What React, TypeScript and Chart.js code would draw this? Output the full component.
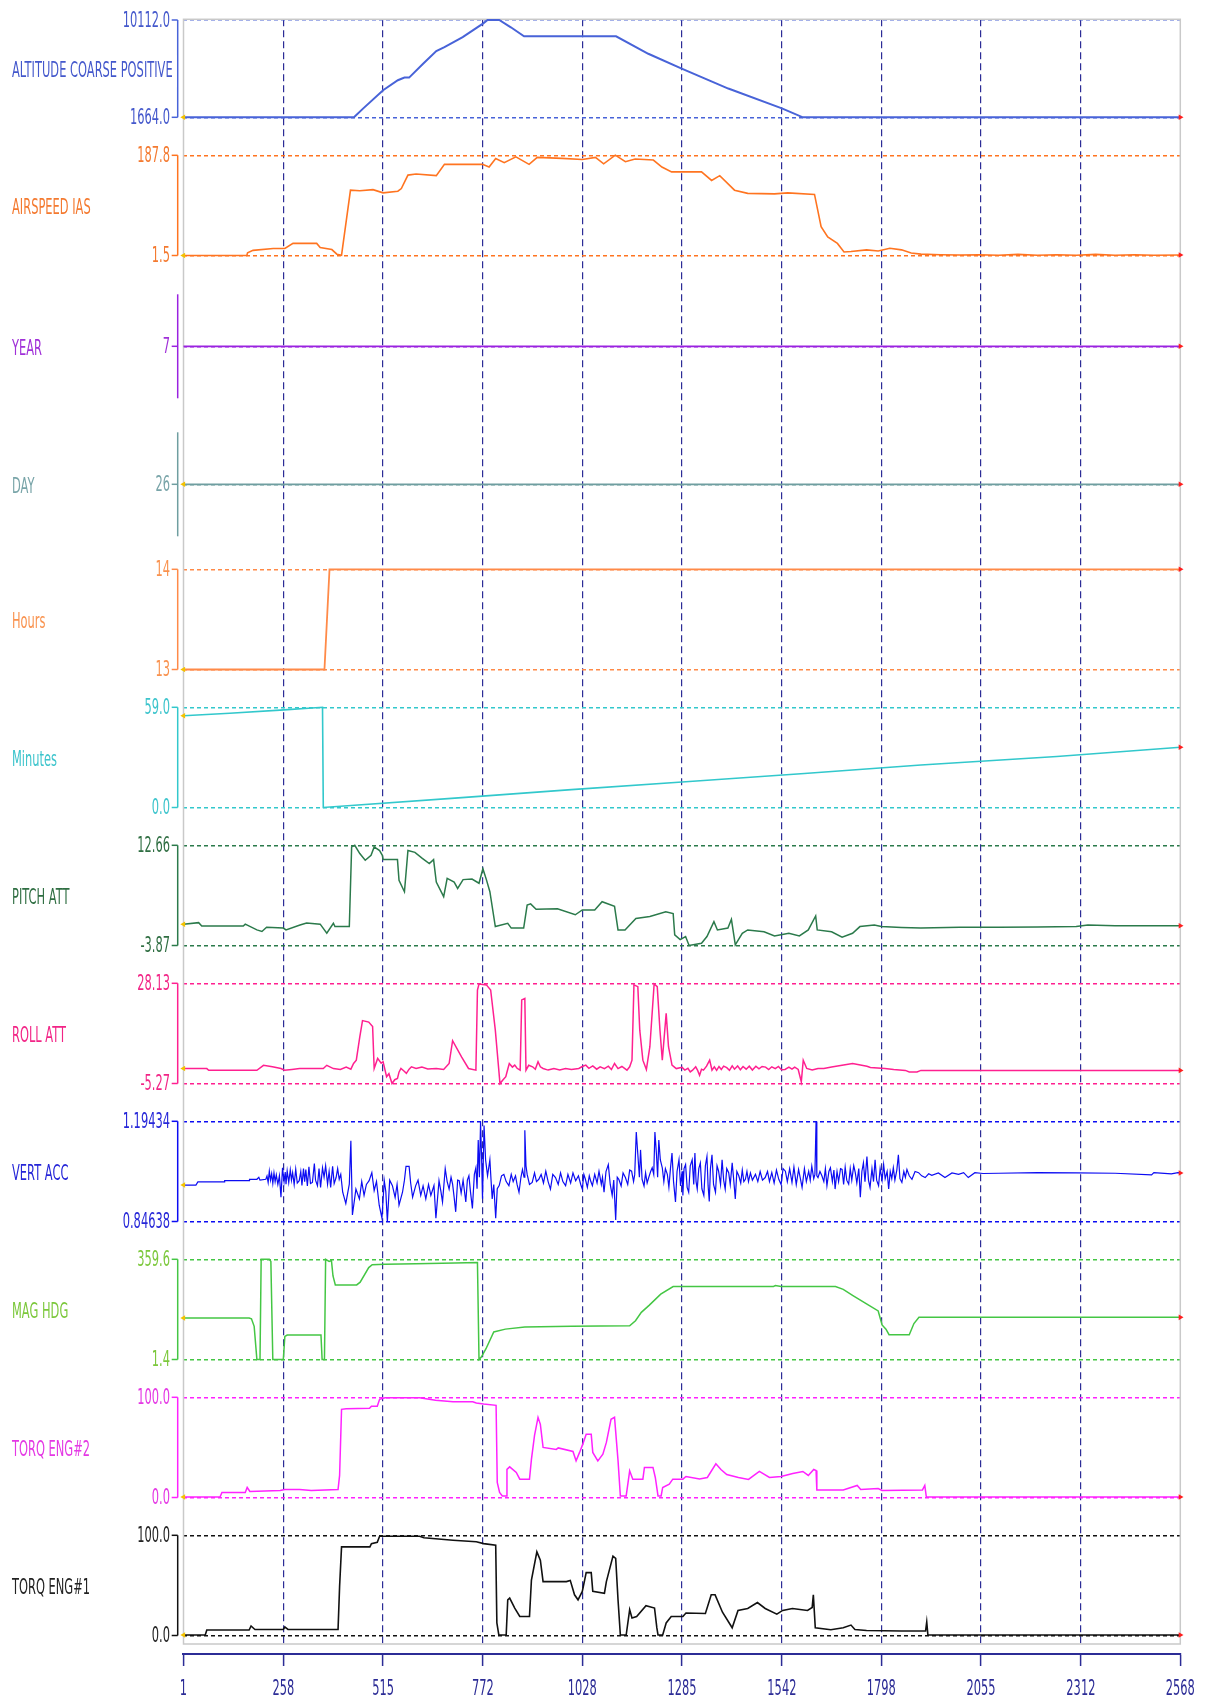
import React, { useEffect, useRef } from 'react';
import { Chart, registerables } from 'chart.js';

Chart.register(...registerables);

// ---------------- data ----------------
const xTickValues = [1, 258, 515, 772, 1028, 1285, 1542, 1798, 2055, 2312, 2568];

const seriesNames = [
  'ALTITUDE COARSE POSITIVE', 'AIRSPEED IAS', 'YEAR', 'DAY', 'Hours', 'Minutes',
  'PITCH ATT', 'ROLL ATT', 'VERT ACC', 'MAG HDG', 'TORQ ENG#2', 'TORQ ENG#1',
];

const rangeLow = [1664, 1.5, 7, 26, 13, 0, -3.87, -5.27, 0.84638, 1.4, 0, 0];
const rangeHigh = [10112, 187.8, 7, 26, 14, 59, 12.66, 28.13, 1.19434, 359.6, 100, 100];

const tickLabels = [
  ['1664.0', '10112.0'], ['1.5', '187.8'], ['7'], ['26'], ['13', '14'], ['0.0', '59.0'],
  ['-3.87', '12.66'], ['-5.27', '28.13'], ['0.84638', '1.19434'], ['1.4', '359.6'],
  ['0.0', '100.0'], ['0.0', '100.0'],
];

const altitudeData: [number, number][] = [
  [1, 1664], [440, 1664], [464, 2440], [515, 4020], [553, 4880], [570, 5110], [582, 5110],
  [618, 6320], [652, 7410], [673, 7750], [720, 8620], [773, 9820], [784, 10112], [814, 10112],
  [844, 9480], [878, 8700], [1115, 8700], [1198, 7180], [1284, 5890], [1404, 4160],
  [1542, 2440], [1596, 1664], [2568, 1664],
];

const airspeedData: [number, number][] = [
  [1, 1.5], [164, 1.5], [166, 6.5], [180, 11], [232, 14.5], [262, 14.5], [283, 24], [344, 24],
  [353, 16.5], [383, 12.5], [396, 4], [408, 2], [431, 123], [455, 122], [489, 124], [515, 118],
  [553, 121], [562, 126], [579, 151], [600, 153], [652, 150], [673, 171], [771, 171], [788, 166],
  [805, 182], [827, 174], [857, 185], [891, 171], [912, 184], [976, 182], [1028, 180],
  [1062, 184], [1083, 172], [1113, 188], [1139, 176], [1164, 181], [1211, 179], [1233, 166],
  [1258, 157], [1335, 157], [1361, 141], [1382, 150], [1420, 123], [1454, 117], [1523, 116],
  [1557, 118], [1626, 115], [1643, 55], [1660, 36], [1685, 24], [1702, 8], [1720, 9],
  [1760, 12], [1790, 10], [1820, 15], [1850, 12], [1875, 6], [1900, 4], [1950, 3], [2000, 2.5],
  [2050, 3], [2100, 2], [2150, 3.5], [2200, 2], [2250, 3], [2300, 2], [2350, 3.5], [2400, 2],
  [2450, 3], [2500, 2], [2568, 2.5],
];

const yearData: [number, number][] = [[1, 7], [2568, 7]];
const dayData: [number, number][] = [[1, 26], [2568, 26]];
const hoursData: [number, number][] = [[1, 13], [364, 13], [377, 14], [2568, 14]];

const minutesData: [number, number][] = [
  [1, 54], [120, 55.5], [260, 57.5], [359, 59], [361, 0], [700, 5.5], [1000, 10.5],
  [1285, 15], [1600, 20], [1900, 25], [2250, 30], [2568, 35.5],
];

const pitchData: [number, number][] = [
  [1, -0.35], [40, -0.1], [48, -0.65], [155, -0.65], [160, -0.35], [190, -1.3], [203, -1.55],
  [215, -0.85], [258, -1.0], [265, -1.3], [301, -0.5], [318, -0.15], [353, -0.35], [370, -1.85],
  [387, -0.2], [391, -0.75], [428, -0.75], [434, 12.4], [442, 12.66], [455, 11.3], [469, 10.2],
  [484, 11.0], [492, 12.4], [506, 11.8], [513, 11.0], [515, 10.3], [552, 10.3], [556, 6.9],
  [570, 5.0], [579, 11.8], [597, 11.5], [616, 10.5], [634, 9.65], [645, 10.3], [652, 6.6],
  [671, 4.2], [680, 7.2], [698, 6.6], [707, 5.55], [721, 7.0], [744, 7.1], [762, 6.4],
  [772, 8.8], [781, 7.0], [790, 5.0], [804, -0.75], [836, -0.2], [845, -1.0], [877, -1.0],
  [886, 2.8], [895, 3.0], [909, 2.1], [964, 2.2], [1010, 1.2], [1028, 2.0], [1060, 2.0],
  [1079, 3.35], [1111, 2.6], [1120, -1.3], [1138, -1.3], [1166, 0.6], [1202, 0.9], [1243, 1.7],
  [1262, 1.4], [1266, -2.1], [1280, -2.9], [1294, -2.4], [1303, -3.87], [1335, -3.5],
  [1349, -2.4], [1367, 0.07], [1376, -1.3], [1403, -1.0], [1412, 0.45], [1422, -3.76],
  [1440, -1.85], [1454, -1.3], [1496, -1.6], [1523, -2.3], [1560, -1.85], [1587, -2.3],
  [1610, -1.3], [1629, 1.0], [1633, -1.3], [1670, -1.6], [1697, -2.5], [1724, -1.85],
  [1743, -0.75], [1780, -0.5], [1798, -0.75], [1850, -0.9], [1900, -1.0], [2000, -0.85],
  [2100, -0.85], [2200, -0.8], [2300, -0.75], [2330, -0.5], [2400, -0.6], [2568, -0.6],
];

const rollData: [number, number][] = [
  [1, -0.3], [61, -0.3], [66, -0.85], [190, -0.85], [207, 0.8], [230, 0.3], [252, -0.3],
  [261, -0.85], [280, -0.6], [300, -0.3], [340, -0.3], [361, -0.3], [370, 0.8], [387, -0.3],
  [405, -0.6], [420, 0.2], [432, -0.5], [439, 1.4], [446, 2.5], [455, 10.3], [462, 15.7],
  [478, 15.2], [488, 13.7], [492, -0.26], [501, 3.1], [510, 1.5], [515, 2.0], [524, -3.0],
  [530, -2.0], [538, -5.27], [545, -4.0], [552, -3.6], [556, -1.5], [561, -0.26], [568, -1.0],
  [575, -1.9], [582, -0.5], [588, 0.3], [600, -0.26], [615, 0.2], [630, -0.4], [652, -0.26],
  [671, -0.6], [685, 1.4], [694, 9.0], [717, 3.6], [735, -0.26], [754, -0.82], [758, 25.9],
  [762, 27.9], [781, 27.6], [792, 25.9], [804, 12.5], [816, -5.27], [824, -4.0], [831, -3.0],
  [836, -0.5], [840, 1.4], [848, 0.2], [854, 0.85], [860, -0.2], [868, -0.82], [872, 22.6],
  [880, 23.1], [883, -0.82], [890, 0.8], [900, 0.3], [907, -0.5], [914, 2.0], [920, 0.3],
  [927, -0.26], [940, -0.8], [955, -0.26], [970, -0.8], [985, -0.26], [1000, -0.6],
  [1019, -0.26], [1028, 0.4], [1037, 0.85], [1045, -0.2], [1055, 0.6], [1065, -0.5],
  [1074, 0.3], [1085, -0.3], [1095, 0.5], [1103, -0.6], [1111, 1.4], [1120, -0.3], [1130, 0.4],
  [1143, -0.82], [1150, 0.3], [1156, 2.5], [1161, 27.6], [1171, 27.0], [1176, 12.5],
  [1184, 2.5], [1193, -0.6], [1202, 7.0], [1213, 27.9], [1221, 27.0], [1228, 12.5],
  [1234, 2.5], [1244, 18.1], [1250, 7.0], [1259, 0.85], [1270, -0.3], [1285, 0.1],
  [1292, -0.8], [1300, -0.2], [1306, -1.4], [1312, -0.82], [1320, 0.3], [1325, -0.9],
  [1330, -2.5], [1335, -0.5], [1340, -0.82], [1348, 0.5], [1356, 2.5], [1362, -0.82],
  [1368, 0.3], [1374, -0.9], [1380, 0.4], [1386, -0.6], [1392, 0.5], [1400, 0.0],
  [1407, -0.9], [1414, 0.6], [1420, -0.5], [1428, 0.6], [1435, -0.7], [1442, 0.4],
  [1450, -0.5], [1458, 0.5], [1466, -0.8], [1475, 0.5], [1483, -0.4], [1491, 0.4],
  [1500, 0.2], [1508, -0.6], [1516, 0.3], [1525, -0.3], [1533, 0.4], [1541, -0.7],
  [1550, -0.6], [1560, 0.2], [1568, -0.5], [1575, 0.2], [1584, -0.6], [1592, -4.7],
  [1597, 2.5], [1606, -0.26], [1620, -0.8], [1635, -0.26], [1650, -0.26], [1670, 0.2],
  [1697, 0.85], [1724, 1.4], [1761, 0.5], [1770, 0.1], [1807, -0.26], [1830, -0.6],
  [1860, -0.9], [1870, -1.4], [1890, -1.4], [1900, -0.9], [2568, -0.9],
];

const vertAccData: [number, number][] = [
  [1, 0.973], [33, 0.973], [38, 0.984], [106, 0.984], [107, 0.988], [170, 0.988], [171, 0.993],
  [190, 0.993], [195, 1.000], [198, 0.990], [213, 0.993], [216, 1.004], [219, 0.982],
  [222, 1.021], [225, 0.990], [228, 1.012], [231, 0.979], [234, 1.015], [237, 0.985],
  [240, 1.008], [244, 0.975], [248, 1.005], [252, 0.931], [256, 1.033], [260, 0.985],
  [263, 1.018], [265, 0.976], [268, 1.022], [272, 0.982], [276, 1.026], [279, 0.990],
  [282, 1.016], [286, 0.975], [290, 1.028], [294, 0.980], [299, 0.988], [303, 1.020],
  [306, 0.972], [310, 1.030], [313, 0.985], [316, 1.027], [320, 0.970], [324, 1.036],
  [328, 0.978], [333, 0.982], [338, 1.048], [341, 0.990], [346, 0.971], [350, 1.030],
  [354, 0.965], [359, 1.033], [363, 1.000], [367, 1.040], [372, 0.976], [376, 1.020],
  [380, 0.965], [385, 1.038], [389, 0.978], [394, 0.999], [398, 1.030], [402, 0.993],
  [406, 1.010], [411, 0.948], [419, 0.909], [428, 0.976], [432, 1.127], [436, 0.869],
  [445, 0.959], [454, 0.925], [460, 0.985], [466, 0.937], [472, 0.975], [479, 0.988],
  [486, 1.016], [492, 0.954], [498, 0.985], [505, 0.903], [512, 0.858], [518, 0.988],
  [522, 0.950], [526, 0.846], [532, 0.990], [539, 0.971], [546, 0.930], [551, 0.975],
  [556, 0.903], [565, 0.948], [570, 0.990], [574, 1.038], [582, 1.038], [586, 0.980],
  [591, 0.931], [599, 0.971], [605, 0.990], [612, 0.937], [618, 0.970], [625, 0.925],
  [632, 0.975], [638, 0.937], [646, 0.971], [651, 0.858], [659, 0.988], [664, 0.950],
  [668, 0.914], [675, 1.030], [680, 0.985], [685, 0.959], [690, 1.000], [694, 0.976],
  [698, 0.930], [702, 0.880], [707, 0.990], [711, 0.988], [716, 0.945], [721, 0.990],
  [728, 0.914], [732, 0.990], [736, 1.005], [740, 0.950], [745, 0.892], [750, 1.010],
  [754, 1.033], [757, 0.960], [760, 1.129], [763, 1.000], [766, 1.194], [769, 1.050],
  [771, 0.925], [775, 1.180], [779, 1.060], [784, 1.005], [790, 1.061], [793, 0.990],
  [796, 0.925], [800, 0.975], [805, 0.858], [809, 0.960], [814, 0.971], [820, 1.005],
  [826, 1.010], [832, 0.985], [839, 0.971], [845, 1.010], [850, 0.985], [856, 1.005],
  [860, 0.975], [865, 0.948], [870, 1.000], [874, 1.027], [878, 1.000], [880, 1.163],
  [883, 1.040], [886, 1.010], [892, 0.975], [899, 0.982], [905, 1.015], [910, 0.985],
  [916, 0.993], [922, 1.010], [928, 0.980], [934, 1.021], [940, 0.985], [946, 0.959],
  [952, 1.010], [959, 0.999], [966, 0.975], [972, 1.015], [978, 0.985], [985, 0.971],
  [991, 1.010], [998, 0.980], [1004, 1.015], [1011, 0.988], [1018, 1.005], [1024, 0.975],
  [1028, 0.959], [1032, 1.010], [1036, 0.993], [1041, 0.965], [1046, 1.005], [1050, 0.985],
  [1054, 0.971], [1060, 1.010], [1066, 0.980], [1071, 1.021], [1077, 0.975], [1080, 1.000],
  [1084, 0.948], [1089, 1.020], [1095, 1.044], [1100, 0.975], [1105, 0.937], [1109, 0.990],
  [1114, 0.852], [1118, 1.000], [1122, 0.993], [1128, 0.970], [1133, 1.015], [1139, 0.999],
  [1145, 0.975], [1150, 1.025], [1155, 1.021], [1160, 0.985], [1163, 1.010], [1167, 1.157],
  [1171, 1.080], [1175, 1.000], [1178, 1.095], [1182, 0.993], [1187, 0.970], [1191, 1.015],
  [1195, 0.980], [1199, 0.999], [1204, 1.020], [1208, 1.033], [1212, 1.010], [1215, 1.157],
  [1219, 1.080], [1222, 1.000], [1225, 1.129], [1229, 1.060], [1234, 1.033], [1238, 0.985],
  [1242, 1.030], [1247, 1.010], [1251, 0.965], [1255, 1.030], [1259, 1.084], [1263, 0.985],
  [1268, 0.914], [1272, 1.020], [1277, 1.061], [1281, 0.970], [1285, 1.021], [1287, 0.937],
  [1290, 1.030], [1294, 1.044], [1298, 0.965], [1302, 0.948], [1306, 1.040], [1311, 1.061],
  [1315, 0.975], [1318, 1.084], [1321, 0.985], [1324, 0.959], [1328, 1.030], [1332, 1.050],
  [1336, 0.960], [1341, 0.937], [1345, 1.040], [1349, 1.072], [1352, 0.970], [1355, 0.916],
  [1358, 1.030], [1362, 1.078], [1366, 0.975], [1371, 0.948], [1375, 1.040], [1379, 1.021],
  [1384, 0.975], [1388, 1.061], [1392, 0.990], [1396, 0.959], [1400, 1.030], [1405, 1.016],
  [1409, 0.975], [1414, 1.050], [1418, 0.990], [1422, 0.925], [1426, 1.020], [1431, 1.005],
  [1436, 0.980], [1440, 1.025], [1444, 0.985], [1448, 0.993], [1452, 1.020], [1456, 0.985],
  [1461, 1.015], [1466, 0.990], [1474, 1.010], [1480, 0.985], [1486, 1.020], [1492, 0.990],
  [1499, 0.999], [1505, 1.020], [1510, 0.985], [1516, 1.016], [1522, 0.980], [1528, 1.025],
  [1534, 0.993], [1540, 0.975], [1545, 1.030], [1551, 1.021], [1556, 0.985], [1562, 1.030],
  [1568, 0.982], [1573, 1.035], [1579, 0.975], [1585, 1.027], [1589, 1.000], [1594, 0.965],
  [1600, 1.030], [1605, 0.985], [1611, 1.021], [1615, 0.990], [1619, 1.038], [1624, 0.995],
  [1627, 1.010], [1630, 1.194], [1632, 1.005], [1635, 0.999], [1640, 1.020], [1645, 1.005],
  [1650, 0.985], [1654, 1.030], [1658, 0.971], [1663, 1.020], [1667, 1.033], [1672, 0.985],
  [1676, 1.025], [1679, 0.959], [1684, 1.020], [1688, 0.985], [1693, 1.030], [1697, 1.027],
  [1701, 0.975], [1705, 1.035], [1709, 0.990], [1714, 0.976], [1718, 1.030], [1722, 0.990],
  [1727, 1.040], [1731, 1.016], [1735, 0.980], [1740, 1.030], [1744, 0.931], [1748, 1.020],
  [1752, 1.050], [1756, 0.985], [1761, 1.072], [1765, 0.990], [1769, 0.965], [1774, 1.030],
  [1778, 0.985], [1782, 1.061], [1786, 0.990], [1791, 0.971], [1795, 1.030], [1800, 0.990],
  [1804, 1.044], [1808, 0.995], [1813, 1.020], [1817, 0.959], [1821, 1.020], [1825, 0.995],
  [1829, 1.033], [1833, 0.990], [1838, 1.025], [1842, 1.078], [1846, 0.995], [1851, 0.982],
  [1856, 1.020], [1860, 1.000], [1864, 1.027], [1870, 1.005], [1877, 0.993], [1885, 1.020],
  [1894, 1.016], [1902, 1.005], [1911, 0.999], [1920, 1.012], [1928, 1.007], [1945, 1.015],
  [1962, 0.999], [1980, 1.015], [1997, 1.010], [2010, 1.016], [2022, 0.999], [2039, 1.016],
  [2060, 1.013], [2100, 1.014], [2200, 1.016], [2300, 1.015], [2400, 1.014], [2494, 1.008],
  [2500, 1.016], [2545, 1.012], [2562, 1.016], [2568, 1.015],
];

const magHdgData: [number, number][] = [
  [1, 150], [170, 150], [176, 147], [183, 120], [190, 1.4], [198, 1.4], [201, 359.6],
  [222, 359.6], [226, 352], [231, 1.4], [258, 1.4], [262, 84], [268, 89], [355, 89],
  [358, 1.4], [364, 1.4], [367, 359.6], [376, 352], [382, 355], [386, 300], [392, 268],
  [447, 268], [456, 278], [478, 330], [487, 340], [520, 342], [600, 344], [700, 346],
  [758, 348], [762, 1.4], [768, 10], [780, 40], [800, 100], [830, 110], [880, 118],
  [1000, 120], [1150, 122], [1165, 140], [1180, 170], [1200, 195], [1230, 235], [1262, 262],
  [1520, 262], [1525, 266], [1540, 262], [1680, 262], [1700, 252], [1725, 230], [1760, 200],
  [1790, 175], [1800, 125], [1810, 110], [1818, 90], [1870, 90], [1882, 130], [1895, 152],
  [2568, 152],
];

const torq2Data: [number, number][] = [
  [1, 0.5], [95, 0.5], [100, 5], [160, 5], [165, 10], [172, 6], [250, 7], [262, 8], [300, 8],
  [330, 7], [399, 8], [403, 22], [408, 88], [420, 88.5], [480, 89], [485, 91], [500, 91],
  [506, 98], [520, 99.5], [609, 99.5], [650, 97], [695, 95.6], [746, 95.6], [755, 94.3],
  [774, 93.3], [806, 92], [809, 15], [815, 5], [822, 1.6], [832, 1.6], [834, 28], [841, 30.6],
  [858, 25], [867, 18.3], [892, 18.3], [897, 38], [905, 62], [914, 80], [920, 73], [927, 50],
  [961, 48], [966, 49.5], [1004, 46], [1012, 36.6], [1021, 45], [1029, 53], [1038, 63],
  [1051, 63], [1055, 45], [1068, 36.6], [1081, 43.3], [1090, 55], [1102, 78], [1111, 80],
  [1120, 37], [1126, 1.6], [1141, 1.6], [1150, 26.6], [1158, 18.3], [1184, 18.3], [1188, 30],
  [1210, 30], [1216, 20], [1223, 1.6], [1231, 1.6], [1235, 10], [1252, 13.3], [1261, 18.3],
  [1287, 18.3], [1295, 21], [1330, 18.5], [1350, 20], [1372, 33.7], [1385, 28], [1400, 23],
  [1430, 20], [1456, 18], [1470, 22], [1484, 26], [1510, 20], [1540, 21], [1570, 24],
  [1596, 26], [1610, 22], [1624, 28], [1630, 27], [1632, 7.6], [1700, 7.6], [1736, 12],
  [1745, 8], [1790, 9], [1800, 7], [1904, 7.6], [1910, 12], [1914, 0.5], [2568, 0.5],
];

const torq1Data: [number, number][] = [
  [1, 0.5], [57, 0.5], [61, 5.5], [170, 5.5], [175, 9.5], [185, 6], [258, 6], [262, 8.5],
  [270, 6], [300, 6], [399, 6], [403, 49], [408, 88.4], [481, 88.4], [485, 91.7], [500, 93],
  [506, 99], [609, 99], [620, 97.5], [695, 95], [755, 93.5], [774, 91.7], [805, 90],
  [808, 12.5], [813, 0.5], [832, 0.5], [836, 35.6], [841, 37.3], [854, 27.4], [867, 19],
  [892, 19], [897, 55.4], [911, 83.5], [920, 75.2], [927, 53.8], [987, 53.8], [997, 55],
  [1008, 40.6], [1017, 35.6], [1028, 44], [1038, 62.7], [1051, 62.7], [1055, 44], [1085, 42.2],
  [1090, 53.8], [1107, 79.2], [1114, 77], [1120, 35.6], [1126, 0.5], [1141, 0.5], [1150, 25.7],
  [1156, 17.5], [1168, 19], [1192, 29.7], [1214, 27.4], [1220, 7.6], [1223, 0.5], [1235, 0.5],
  [1244, 12.5], [1257, 19], [1287, 19], [1295, 22.4], [1345, 22], [1360, 40.6], [1370, 40.6],
  [1389, 23.2], [1414, 7.7], [1429, 25], [1454, 27], [1479, 32.9], [1499, 27], [1529, 21.3],
  [1544, 25], [1569, 27], [1608, 25], [1620, 28], [1623, 40.6], [1628, 7.7], [1668, 5.8],
  [1700, 7.7], [1720, 10.4], [1730, 6], [1760, 5], [1850, 4.5], [1912, 4.5], [1915, 13.5],
  [1918, 0.5], [2568, 0.5],
];

const seriesData = [
  altitudeData, airspeedData, yearData, dayData, hoursData, minutesData,
  pitchData, rollData, vertAccData, magHdgData, torq2Data, torq1Data,
];

// ---------------- styles / layout ----------------
const lineColors = [
  '#4863d8', '#ff7420', '#9a22e0', '#6f9ea0', '#ff8a48', '#32c8cc',
  '#2b7a4b', '#ff2090', '#0c0cf2', '#44c644', '#ff22ff', '#111111',
];
const textColors = [
  '#4458cc', '#f47a30', '#a030d8', '#78a4a8', '#f9924e', '#3cc4cc',
  '#2f6e42', '#f22486', '#2626d8', '#7cc83c', '#e438e4', '#222222',
];
const lineWidths = [2, 1.6, 1.8, 1.8, 1.8, 1.6, 1.5, 1.5, 1.2, 1.5, 1.5, 1.6];

const NAVY = '#2c2c96';
const CANVAS_W = 1206;
const CANVAS_H = 1704;
const CHART_TOP = 19.3;
const CHART_BOTTOM = 1644;
const PLOT_LEFT = 183.5;
const PLOT_RIGHT = 1180.3;
const FIRST_BAND_TOP = 137.4;
const BAND_PITCH = 138.0;
const FIRST_HI_PX = 155.3;
const RANGE_PX = 100.2;
const X_AXIS_PX = 1654;
const X_LABEL_Y = 1689;
const AXIS_X = 177.7;
const TICK_LABEL_X = 170;
const NAME_X = 12;
const NAME_DY = 2.5;
const FONT_PX = 22;
const TEXT_SX = 0.52;

function bandGeometry(k: number) {
  const top = k === 0 ? CHART_TOP : FIRST_BAND_TOP + BAND_PITCH * (k - 1);
  const bottom = k === 11 ? CHART_BOTTOM : FIRST_BAND_TOP + BAND_PITCH * k;
  const pHi = k === 0 ? 20.0 : FIRST_HI_PX + BAND_PITCH * (k - 1);
  const pLo = k === 0 ? 117.3 : pHi + RANGE_PX;
  return { top, bottom, pHi, pLo };
}

function axisBounds(k: number) {
  const g = bandGeometry(k);
  let lo = rangeLow[k];
  let hi = rangeHigh[k];
  let pH = g.pHi;
  let pL = g.pLo;
  if (lo === hi) {
    const c = g.pHi + 53;
    lo -= 1;
    hi += 1;
    pH = c - 50;
    pL = c + 50;
  }
  const u = (hi - lo) / (pL - pH);
  return {
    min: lo - (g.bottom - pL) * u,
    max: hi + (pH - g.top) * u,
    weight: g.bottom - g.top,
    unit: u,
    pL,
    lo,
  };
}

function xAxisValueOnLastBand() {
  const b = axisBounds(11);
  return b.lo - (X_AXIS_PX - b.pL) * b.unit;
}

function setFont(ctx: CanvasRenderingContext2D) {
  ctx.font = `${FONT_PX}px "DejaVu Sans", "Liberation Sans", sans-serif`;
}

function measure(ctx: CanvasRenderingContext2D, text: string) {
  ctx.save();
  setFont(ctx);
  const w = ctx.measureText(text).width * TEXT_SX;
  ctx.restore();
  return w;
}

function drawText(
  ctx: CanvasRenderingContext2D, text: string, x: number, y: number,
  align: CanvasTextAlign, color: string,
) {
  ctx.save();
  ctx.translate(x, y);
  ctx.scale(TEXT_SX, 1);
  setFont(ctx);
  ctx.fillStyle = color;
  ctx.textAlign = align;
  ctx.textBaseline = 'middle';
  ctx.fillText(text, 0, 0);
  ctx.restore();
}

const stripPlugin = {
  id: 'stripDecor',
  beforeDatasetsDraw(chart: any) {
    const { ctx, chartArea } = chart;
    ctx.save();
    ctx.strokeStyle = '#c9c9c9';
    ctx.lineWidth = 1.5;
    ctx.strokeRect(chartArea.left, chartArea.top, chartArea.right - chartArea.left, chartArea.bottom - chartArea.top);
    ctx.restore();
  },
  afterDraw(chart: any) {
    const ctx: CanvasRenderingContext2D = chart.ctx;
    for (let k = 0; k < 12; k++) {
      const sc = chart.scales['y' + k];
      const constant = rangeLow[k] === rangeHigh[k];
      const yHi = sc.getPixelForValue(rangeHigh[k]);
      const yLo = sc.getPixelForValue(rangeLow[k]);
      const segTop = constant ? yHi - 52 : yHi;
      const segBot = constant ? yLo + 52 : yLo;
      ctx.save();
      ctx.strokeStyle = lineColors[k];
      ctx.lineWidth = 1.5;
      ctx.beginPath();
      ctx.moveTo(AXIS_X, segTop);
      ctx.lineTo(AXIS_X, segBot);
      ctx.stroke();
      const vals = constant ? [rangeLow[k]] : [rangeLow[k], rangeHigh[k]];
      vals.forEach((v, i) => {
        const py = sc.getPixelForValue(v);
        ctx.beginPath();
        ctx.moveTo(AXIS_X - 6, py);
        ctx.lineTo(AXIS_X, py);
        ctx.stroke();
        drawText(ctx, tickLabels[k][i], TICK_LABEL_X, py + 1.2, 'right', textColors[k]);
      });
      const cy = (yHi + yLo) / 2 + NAME_DY;
      const w = measure(ctx, seriesNames[k]);
      ctx.fillStyle = '#ffffff';
      ctx.fillRect(NAME_X - 2, cy - 16, w + 6, 32);
      drawText(ctx, seriesNames[k], NAME_X, cy, 'left', textColors[k]);
      ctx.restore();
    }
    const xs = chart.scales.x;
    xTickValues.forEach((v) => {
      drawText(ctx, String(v), xs.getPixelForValue(v), X_LABEL_Y, 'center', NAVY);
    });
  },
};

function buildScales() {
  const scales: any = {
    x: {
      type: 'linear',
      axis: 'x',
      min: 1,
      max: 2568,
      bounds: 'data',
      position: { y11: xAxisValueOnLastBand() },
      afterBuildTicks: (axis: any) => {
        axis.ticks = xTickValues.map((v) => ({ value: v }));
      },
      ticks: { display: false },
      grid: {
        color: (c: any) => (c.index === 0 || c.index === xTickValues.length - 1 ? 'rgba(0,0,0,0)' : NAVY),
        lineWidth: 1.2,
        drawTicks: true,
        tickLength: 11,
        tickColor: NAVY,
        tickWidth: 1.5,
      },
      border: { display: true, color: NAVY, width: 2, dash: [7, 4] },
    },
  };
  for (let k = 0; k < 12; k++) {
    const b = axisBounds(k);
    const constant = rangeLow[k] === rangeHigh[k];
    const tickVals = constant ? [rangeLow[k]] : [rangeLow[k], rangeHigh[k]];
    scales['y' + k] = {
      type: 'linear',
      axis: 'y',
      position: 'left',
      stack: 'strips',
      stackWeight: b.weight,
      weight: 12 - k,
      offset: false,
      min: b.min,
      max: b.max,
      bounds: 'data',
      grace: 0,
      afterBuildTicks: (axis: any) => {
        axis.ticks = tickVals.map((v) => ({ value: v }));
      },
      afterFit: (axis: any) => {
        axis.width = PLOT_LEFT;
      },
      ticks: { display: false },
      grid: {
        color: lineColors[k],
        lineWidth: 1.5,
        drawTicks: false,
      },
      border: { display: false, dash: [4, 3] },
    };
  }
  return scales;
}

function buildDatasets() {
  return seriesData.map((arr, k) => ({
    label: seriesNames[k],
    data: arr.map(([x, y]) => ({ x, y })),
    xAxisID: 'x',
    yAxisID: 'y' + k,
    borderColor: lineColors[k],
    backgroundColor: lineColors[k],
    borderWidth: lineWidths[k],
    tension: 0,
    fill: false,
    clip: 6,
    pointStyle: 'triangle',
    pointRadius: (c: any) => {
      const n = c.dataset.data.length;
      if (c.dataIndex === n - 1) return 3.2;
      if (c.dataIndex === 0 && k !== 2) return 3.2;
      return 0;
    },
    pointRotation: (c: any) => (c.dataIndex === 0 ? -90 : 90),
    pointBackgroundColor: (c: any) => (c.dataIndex === 0 ? '#f3c200' : '#ff1e1e'),
    pointBorderWidth: 0,
    pointHoverRadius: 0,
  }));
}

export default function App() {
  const canvasRef = useRef<HTMLCanvasElement | null>(null);

  useEffect(() => {
    const canvas = canvasRef.current;
    if (!canvas) return;
    const chart = new Chart(canvas, {
      type: 'line',
      data: { datasets: buildDatasets() as any },
      options: {
        responsive: false,
        animation: false,
        devicePixelRatio: 1,
        events: [],
        layout: {
          padding: {
            left: 0,
            top: CHART_TOP,
            right: CANVAS_W - PLOT_RIGHT,
            bottom: CANVAS_H - CHART_BOTTOM,
          },
        },
        plugins: {
          legend: { display: false },
          tooltip: { enabled: false },
        },
        scales: buildScales(),
      } as any,
      plugins: [stripPlugin as any],
    });
    return () => chart.destroy();
  }, []);

  return (
    <div style={{ position: 'absolute', left: 0, top: 0, width: CANVAS_W, height: CANVAS_H, background: '#ffffff' }}>
      <canvas ref={canvasRef} width={CANVAS_W} height={CANVAS_H} style={{ display: 'block' }} />
    </div>
  );
}
